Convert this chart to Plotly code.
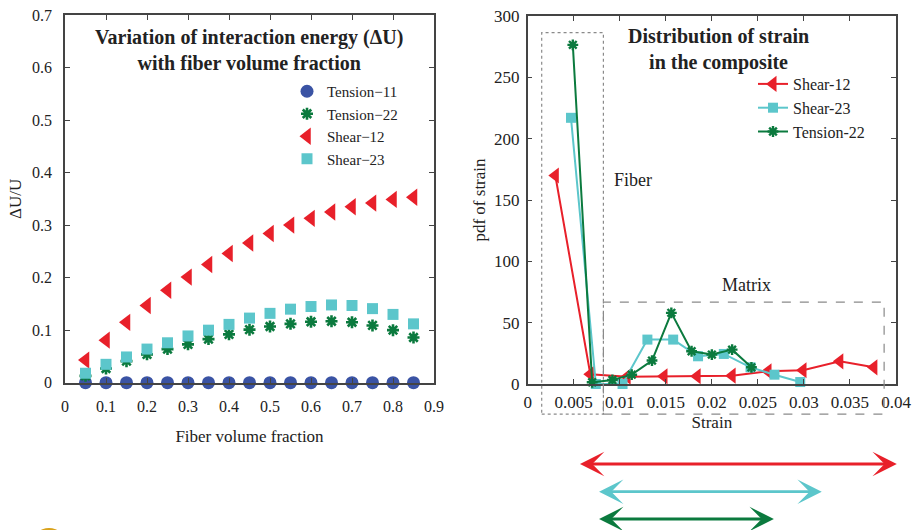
import plotly.graph_objects as go

# ---------------- data ----------------
vf = [0.05, 0.10, 0.15, 0.20, 0.25, 0.30, 0.35, 0.40, 0.45, 0.50,
      0.55, 0.60, 0.65, 0.70, 0.75, 0.80, 0.85]
du_tension11 = [0.0] * 17
du_tension22 = [0.013, 0.027, 0.041, 0.054, 0.064, 0.073, 0.083, 0.092, 0.101, 0.107,
                0.112, 0.116, 0.117, 0.115, 0.109, 0.100, 0.086]
du_shear12 = [0.043, 0.081, 0.115, 0.147, 0.176, 0.201, 0.225, 0.246, 0.266, 0.284,
              0.300, 0.313, 0.325, 0.335, 0.342, 0.349, 0.353]
du_shear23 = [0.018, 0.035, 0.049, 0.064, 0.076, 0.089, 0.100, 0.111, 0.123, 0.132,
              0.140, 0.145, 0.148, 0.147, 0.141, 0.130, 0.112]

strain_shear12 = [0.0030, 0.0068, 0.0108, 0.0148, 0.0184, 0.0222, 0.0261, 0.0299, 0.0339, 0.0376]
pdf_shear12 = [170, 8, 6, 6.3, 6.3, 6.8, 10.4, 11.2, 18.5, 13.6]
strain_shear23 = [0.0047, 0.0074, 0.0103, 0.0130, 0.0158, 0.0185, 0.0213, 0.0242, 0.0268, 0.0296]
pdf_shear23 = [217, 0, 0, 36.2, 36.2, 22.6, 24.5, 13.6, 7.6, 1.6]
strain_tension22 = [0.0049, 0.0070, 0.0092, 0.0113, 0.0135, 0.0156, 0.0178, 0.0200, 0.0222, 0.0243]
pdf_tension22 = [276.5, 1.4, 3.3, 7.6, 19.1, 58, 26.7, 24, 28, 13.6]

left_xticks = [0, 0.1, 0.2, 0.3, 0.4, 0.5, 0.6, 0.7, 0.8, 0.9]
left_yticks = [0, 0.1, 0.2, 0.3, 0.4, 0.5, 0.6, 0.7]
right_xticks = [0, 0.005, 0.01, 0.015, 0.02, 0.025, 0.03, 0.035, 0.04]
right_yticks = [0, 50, 100, 150, 200, 250, 300]

# region boxes (strain range, pdf range) and labels
fiber_box = [0.00152, 0.00822, -24.5, 286.5]
matrix_box = [0.00822, 0.03871, -24.5, 66.8]
fiber_label = (0.0114, 166)
matrix_label = (0.0238, 81)
# strain ranges shown by arrows below the right chart
arrow_ranges = [(0.00568, 0.04025), (0.00775, 0.0321), (0.00775, 0.0269)]

# ---------------- style ----------------
SERIF = "Liberation Serif"
TXT = "#222222"
RED = "#E8202A"
CYAN = "#5CC6CB"
GREEN = "#0B7A3E"
BLUE = "#3A53A4"

fig = go.Figure()

# left chart
fig.add_trace(go.Scatter(x=vf, y=du_tension11, mode="markers", name="Tension\u221211",
                         marker=dict(symbol="circle", size=13, color=BLUE),
                         cliponaxis=False, xaxis="x", yaxis="y", legend="legend"))
fig.add_trace(go.Scatter(x=vf, y=du_tension22, mode="markers", name="Tension\u221222",
                         marker=dict(symbol="asterisk", size=10, color=GREEN,
                                     line=dict(color=GREEN, width=2.6)),
                         cliponaxis=False, xaxis="x", yaxis="y", legend="legend"))
fig.add_trace(go.Scatter(x=vf, y=du_shear12, mode="markers", name="Shear\u221212",
                         marker=dict(symbol="triangle-left", size=15, color=RED),
                         cliponaxis=False, xaxis="x", yaxis="y", legend="legend"))
fig.add_trace(go.Scatter(x=vf, y=du_shear23, mode="markers", name="Shear\u221223",
                         marker=dict(symbol="square", size=11, color=CYAN),
                         cliponaxis=False, xaxis="x", yaxis="y", legend="legend"))

# right chart
fig.add_trace(go.Scatter(x=strain_shear12, y=pdf_shear12, mode="lines+markers", name="Shear-12",
                         line=dict(color=RED, width=2),
                         marker=dict(symbol="triangle-left", size=14, color=RED),
                         cliponaxis=False, xaxis="x2", yaxis="y2", legend="legend2"))
fig.add_trace(go.Scatter(x=strain_shear23, y=pdf_shear23, mode="lines+markers", name="Shear-23",
                         line=dict(color=CYAN, width=2),
                         marker=dict(symbol="square", size=10, color=CYAN),
                         cliponaxis=False, xaxis="x2", yaxis="y2", legend="legend2"))
fig.add_trace(go.Scatter(x=strain_tension22, y=pdf_tension22, mode="lines+markers", name="Tension-22",
                         line=dict(color=GREEN, width=2),
                         marker=dict(symbol="asterisk", size=9, color=GREEN,
                                     line=dict(color=GREEN, width=2.4)),
                         cliponaxis=False, xaxis="x2", yaxis="y2", legend="legend2"))

axis_common = dict(showline=True, linecolor="#444444", linewidth=1.5, mirror="ticks",
                   ticks="inside", ticklen=5, tickwidth=1.2, tickcolor="#444444",
                   showgrid=False, zeroline=False, automargin=False)

W, H = 916, 530
dom_lx = [65 / W, 434 / W]
dom_ly = [1 - 382.7 / H, 1 - 15 / H]
dom_rx = [527.7 / W, 896 / W]
dom_ry = [1 - 384 / H, 1 - 16 / H]

fig.update_layout(
    width=W, height=H,
    margin=dict(l=0, r=0, t=0, b=0),
    paper_bgcolor="white", plot_bgcolor="white",
    font=dict(family=SERIF, color=TXT, size=16),
    xaxis=dict(domain=dom_lx, range=[0, 0.9], tickvals=left_xticks,
               ticktext=[f"{v:g}" for v in left_xticks], anchor="y",
               tickfont=dict(size=16), ticklabelstandoff=8,
               title=dict(text="Fiber volume fraction", font=dict(size=17), standoff=16),
               **axis_common),
    yaxis=dict(domain=dom_ly, range=[0, 0.7], tickvals=left_yticks,
               ticktext=[f"{v:g}" for v in left_yticks], anchor="x",
               tickfont=dict(size=16), ticklabelstandoff=8,
               title=dict(text="\u0394U/U", font=dict(size=17), standoff=6),
               **axis_common),
    xaxis2=dict(domain=dom_rx, range=[0, 0.04], tickvals=right_xticks,
                ticktext=[f"{v:g}" for v in right_xticks], anchor="y2",
                tickfont=dict(size=17), ticklabelstandoff=2,
                title=dict(text="Strain", font=dict(size=17), standoff=5),
                **axis_common),
    yaxis2=dict(domain=dom_ry, range=[0, 300], tickvals=right_yticks,
                ticktext=[f"{v:g}" for v in right_yticks], anchor="x2",
                tickfont=dict(size=17), ticklabelstandoff=3,
                title=dict(text="pdf of strain", font=dict(size=17), standoff=4),
                **axis_common),
    legend=dict(x=287 / W, y=1 - 75 / H, xanchor="left", yanchor="top",
                bgcolor="rgba(0,0,0,0)", font=dict(size=15, family=SERIF, color=TXT),
                tracegroupgap=0),
    legend2=dict(x=753 / W, y=1 - 67 / H, xanchor="left", yanchor="top",
                 bgcolor="rgba(0,0,0,0)", font=dict(size=16, family=SERIF, color=TXT),
                 tracegroupgap=0),
    showlegend=True,
)

# titles
fig.add_annotation(text="<b>Variation of interaction energy (\u0394U)<br>with fiber volume fraction</b>",
                   xref="paper", yref="paper", x=(dom_lx[0] + dom_lx[1]) / 2, y=1 - 50 / H,
                   xanchor="center", yanchor="middle", showarrow=False,
                   font=dict(size=20, family=SERIF, color=TXT))
fig.add_annotation(text="<b>Distribution of strain<br>in the composite</b>",
                   xref="paper", yref="paper", x=718 / W, y=1 - 50 / H,
                   xanchor="center", yanchor="middle", showarrow=False,
                   font=dict(size=20, family=SERIF, color=TXT))

# region labels
fig.add_annotation(text="Fiber", x=fiber_label[0], y=fiber_label[1], xref="x2", yref="y2",
                   showarrow=False, font=dict(size=18, family=SERIF, color=TXT))
fig.add_annotation(text="Matrix", x=matrix_label[0], y=matrix_label[1], xref="x2", yref="y2",
                   showarrow=False, font=dict(size=18, family=SERIF, color=TXT))

# region boxes: x in data units, y converted to the y2 domain fraction
for box, dash in ((fiber_box, "dot"), (matrix_box, "dash")):
    x0, x1, y0, y1 = box
    fig.add_shape(type="rect", xref="x2", yref="y2 domain",
                  x0=x0, x1=x1, y0=y0 / 300, y1=y1 / 300,
                  line=dict(color="#8a8a8a", width=1.2, dash=dash), fillcolor="rgba(0,0,0,0)")

# range arrows below the right chart
arrow_y = [1 - 464 / H, 1 - 491.7 / H, 1 - 519 / H]
for (a, b), yy, col in zip(arrow_ranges, arrow_y, [RED, CYAN, GREEN]):
    fig.add_annotation(x=a, y=yy, xref="x2", yref="paper", ax=b, ay=0,
                       axref="x2", ayref="pixel", text="", showarrow=True,
                       arrowhead=3, startarrowhead=3, arrowside="end+start",
                       arrowsize=1.45, startarrowsize=1.45, arrowwidth=2.8, arrowcolor=col)

# partial gold emblem at bottom-left corner
fig.add_shape(type="circle", xref="paper", yref="paper",
              x0=32 / W, x1=66 / W, y0=1 - 562 / H, y1=1 - 528 / H,
              fillcolor="#D9A21B", line=dict(width=0))

fig.write_html("out.html")
